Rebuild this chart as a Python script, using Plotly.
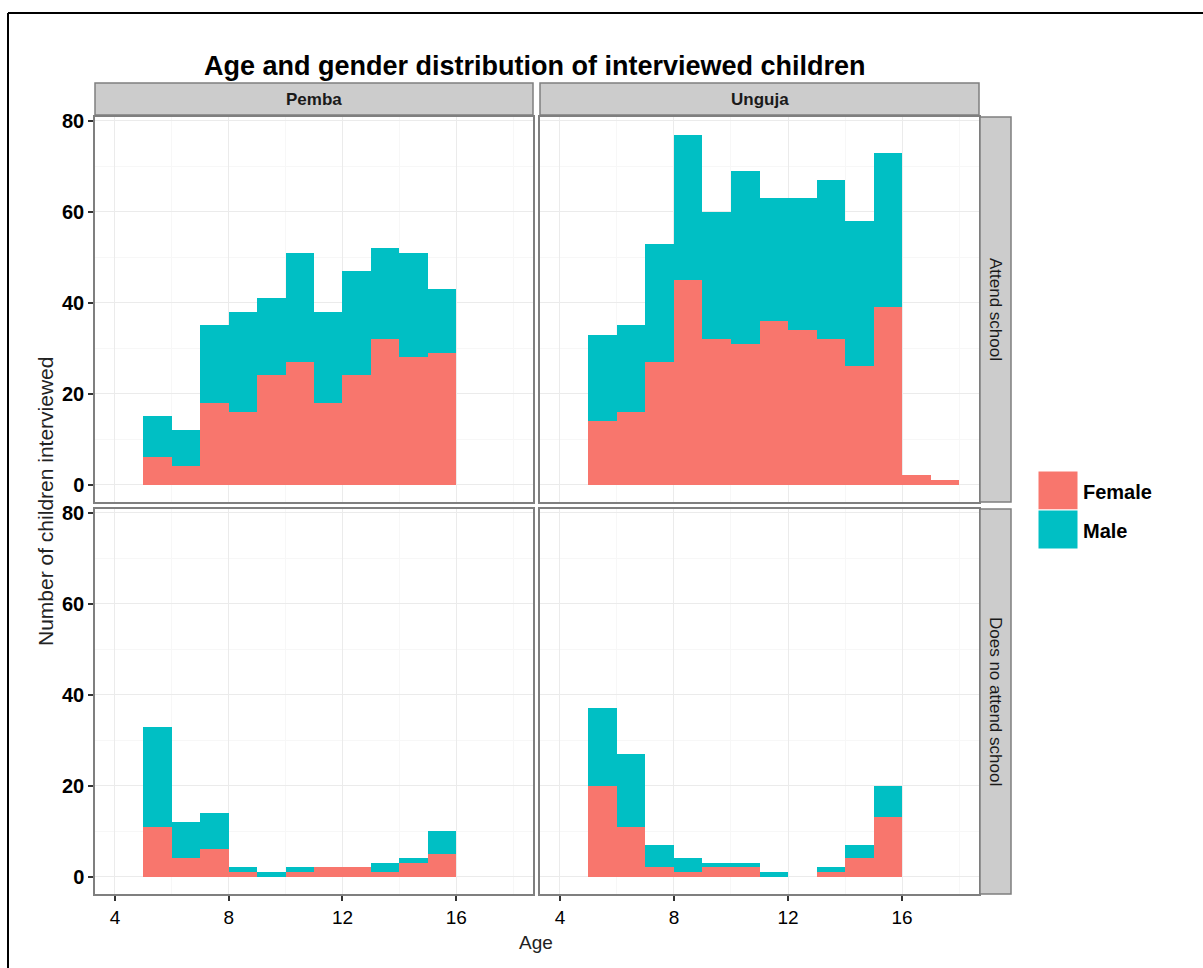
import plotly.graph_objects as go

# ---------------- data ----------------
bin_left = [5, 6, 7, 8, 9, 10, 11, 12, 13, 14, 15, 16, 17]
regions = ["Pemba", "Unguja"]
statuses = ["Attend school", "Does no attend school"]
genders = ["Female", "Male"]

pemba_attend_female = [6, 4, 18, 16, 24, 27, 18, 24, 32, 28, 29, 0, 0]
pemba_attend_male = [9, 8, 17, 22, 17, 24, 20, 23, 20, 23, 14, 0, 0]
unguja_attend_female = [14, 16, 27, 45, 32, 31, 36, 34, 32, 26, 39, 2, 1]
unguja_attend_male = [19, 19, 26, 32, 28, 38, 27, 29, 35, 32, 34, 0, 0]
pemba_noattend_female = [11, 4, 6, 1, 0, 1, 2, 2, 1, 3, 5, 0, 0]
pemba_noattend_male = [22, 8, 8, 1, 1, 1, 0, 0, 2, 1, 5, 0, 0]
unguja_noattend_female = [20, 11, 2, 1, 2, 2, 0, 0, 1, 4, 13, 0, 0]
unguja_noattend_male = [17, 16, 5, 3, 1, 1, 1, 0, 1, 3, 7, 0, 0]

x_ticks = [4, 8, 12, 16]
y_ticks = [0, 20, 40, 60, 80]

colors = {"Female": "#F8766D", "Male": "#00BFC4"}

# ---------------- layout geometry ----------------
W, H = 1203, 968
FONT = "Liberation Sans, Arial, sans-serif"


def px_x(p):
    return p / W


def px_y(p):
    return 1 - p / H


col_dom = [(95, 533), (540, 979)]
row_dom = [(117, 502), (509, 894)]

panels = {
    (0, 0): (pemba_attend_female, pemba_attend_male),
    (0, 1): (unguja_attend_female, unguja_attend_male),
    (1, 0): (pemba_noattend_female, pemba_noattend_male),
    (1, 1): (unguja_noattend_female, unguja_noattend_male),
}

centers = [b + 0.5 for b in bin_left]

fig = go.Figure()
layout_axes = {}
idx = 0
for r in range(2):
    for c in range(2):
        idx += 1
        xa = "x" if idx == 1 else f"x{idx}"
        ya = "y" if idx == 1 else f"y{idx}"
        fem, mal = panels[(r, c)]
        for g, vals in zip(genders, (fem, mal)):
            fig.add_trace(go.Bar(
                x=centers, y=vals, width=[1] * len(centers),
                name=g, marker=dict(color=colors[g], line=dict(width=0)),
                xaxis=xa, yaxis=ya, showlegend=False,
            ))
        xk = "xaxis" if idx == 1 else f"xaxis{idx}"
        yk = "yaxis" if idx == 1 else f"yaxis{idx}"
        bottom = (r == 1)
        left = (c == 0)
        layout_axes[xk] = dict(
            domain=[px_x(col_dom[c][0]), px_x(col_dom[c][1])],
            anchor=ya, range=[3.3, 18.7],
            tickmode="array", tickvals=x_ticks, ticktext=[str(t) for t in x_ticks],
            showticklabels=bottom, ticks="outside" if bottom else "",
            ticklen=5, tickwidth=1.5, tickcolor="#333333",
            tickfont=dict(family=FONT, size=19, color="#000000"),
            showgrid=True, gridcolor="#EBEBEB", gridwidth=1.4,
            minor=dict(tickvals=[2, 6, 10, 14, 18], showgrid=True,
                       gridcolor="#F7F7F7", gridwidth=1, ticks=""),
            showline=True, mirror=True, linecolor="#7F7F7F", linewidth=1.5,
            zeroline=False, fixedrange=True, automargin=False,
        )
        layout_axes[yk] = dict(
            domain=[px_y(row_dom[r][1]), px_y(row_dom[r][0])],
            anchor=xa, range=[-3.85, 80.85],
            tickmode="array", tickvals=y_ticks, ticktext=[f"<b>{t}</b>" for t in y_ticks],
            showticklabels=left, ticks="outside" if left else "",
            ticklen=5, tickwidth=1.5, tickcolor="#333333",
            tickfont=dict(family=FONT, size=20, color="#000000"),
            showgrid=True, gridcolor="#EBEBEB", gridwidth=1.4,
            minor=dict(tickvals=[10, 30, 50, 70], showgrid=True,
                       gridcolor="#F7F7F7", gridwidth=1, ticks=""),
            showline=True, mirror=True, linecolor="#7F7F7F", linewidth=1.5,
            zeroline=False, fixedrange=True, automargin=False,
        )

shapes = []
annotations = []

# column strips
for c, name in enumerate(regions):
    x0, x1 = col_dom[c]
    shapes.append(dict(type="rect", xref="paper", yref="paper",
                       x0=px_x(x0), x1=px_x(x1), y0=px_y(115), y1=px_y(83),
                       fillcolor="#CCCCCC", line=dict(color="#7F7F7F", width=1.5)))
    annotations.append(dict(text=f"<b>{name}</b>", xref="paper", yref="paper",
                            x=px_x((x0 + x1) / 2), y=px_y(100), showarrow=False,
                            xanchor="center", yanchor="middle",
                            font=dict(family=FONT, size=17, color="#1A1A1A")))

# row strips
for r, name in enumerate(statuses):
    y0, y1 = row_dom[r]
    shapes.append(dict(type="rect", xref="paper", yref="paper",
                       x0=px_x(980), x1=px_x(1011), y0=px_y(y1), y1=px_y(y0),
                       fillcolor="#CCCCCC", line=dict(color="#7F7F7F", width=1.5)))
    annotations.append(dict(text=name, xref="paper", yref="paper",
                            x=px_x(995.5), y=px_y((y0 + y1) / 2), showarrow=False,
                            textangle=90, xanchor="center", yanchor="middle",
                            font=dict(family=FONT, size=17, color="#1A1A1A")))

# legend keys (drawn as large ggplot-style keys)
key_top = 471
for i, g in enumerate(genders):
    ya0 = key_top + i * 39
    shapes.append(dict(type="rect", xref="paper", yref="paper",
                       x0=px_x(1038), x1=px_x(1078), y0=px_y(ya0 + 39), y1=px_y(ya0),
                       fillcolor=colors[g], line=dict(color="#FFFFFF", width=1)))
    annotations.append(dict(text=f"<b>{g}</b>", xref="paper", yref="paper",
                            x=px_x(1081), y=px_y(ya0 + 21), showarrow=False,
                            xanchor="left", yanchor="middle",
                            font=dict(family=FONT, size=20, color="#000000")))

# outer frame
shapes.append(dict(type="line", xref="paper", yref="paper",
                   x0=px_x(8), x1=1, y0=px_y(13), y1=px_y(13),
                   line=dict(color="#000000", width=2)))
shapes.append(dict(type="line", xref="paper", yref="paper",
                   x0=px_x(8), x1=px_x(8), y0=px_y(13), y1=0,
                   line=dict(color="#000000", width=2)))

# title and axis titles
annotations.append(dict(text="<b>Age and gender distribution of interviewed children</b>",
                        xref="paper", yref="paper", x=px_x(535), y=px_y(66),
                        showarrow=False, xanchor="center", yanchor="middle",
                        font=dict(family=FONT, size=27, color="#000000")))
annotations.append(dict(text="Age", xref="paper", yref="paper",
                        x=px_x(536), y=px_y(942), showarrow=False,
                        xanchor="center", yanchor="middle",
                        font=dict(family=FONT, size=19, color="#222222")))
annotations.append(dict(text="Number of children interviewed", xref="paper", yref="paper",
                        x=px_x(45), y=px_y(502), showarrow=False, textangle=-90,
                        xanchor="center", yanchor="middle",
                        font=dict(family=FONT, size=21, color="#222222")))

fig.update_layout(
    width=W, height=H,
    margin=dict(l=0, r=0, t=0, b=0, pad=0, autoexpand=False),
    paper_bgcolor="#FFFFFF", plot_bgcolor="#FFFFFF",
    barmode="stack", bargap=0,
    showlegend=False,
    shapes=shapes, annotations=annotations,
    font=dict(family=FONT),
    **layout_axes,
)

pin_js = (
    "document.documentElement.style.margin='0';"
    "document.documentElement.style.overflow='hidden';"
    "document.body.style.margin='0';document.body.style.padding='0';"
    "document.body.style.overflow='hidden';"
    "var d=document.getElementsByClassName('plotly-graph-div')[0];"
    "d.style.position='fixed';d.style.top='0px';d.style.left='0px';"
)

fig.write_html("out.html", config={"displayModeBar": False}, post_script=pin_js)
